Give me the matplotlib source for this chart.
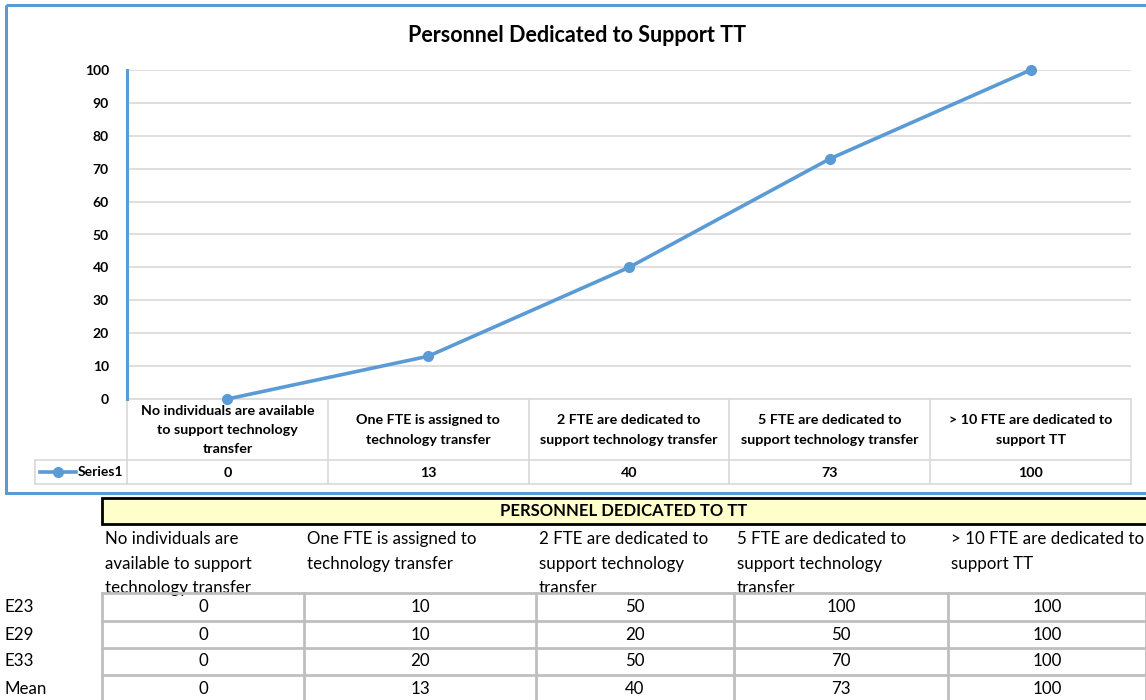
import matplotlib
matplotlib.use("Agg")
import matplotlib.pyplot as plt
from matplotlib.patches import Rectangle

plt.rcParams['font.family'] = ['Lato', 'DejaVu Sans']

# chart data
categories = [
    "No individuals are available\nto support technology\ntransfer",
    "One FTE is assigned to\ntechnology transfer",
    "2 FTE are dedicated to\nsupport technology transfer",
    "5 FTE are dedicated to\nsupport technology transfer",
    "> 10 FTE are dedicated to\nsupport TT",
]
series1 = [0, 13, 40, 73, 100]
yticks = [0, 10, 20, 30, 40, 50, 60, 70, 80, 90, 100]

# sheet data below the chart
sheet_title = "PERSONNEL DEDICATED TO TT"
sheet_headers = [
    "No individuals are\navailable to support\ntechnology transfer",
    "One FTE is assigned to\ntechnology transfer",
    "2 FTE are dedicated to\nsupport technology\ntransfer",
    "5 FTE are dedicated to\nsupport technology\ntransfer",
    "> 10 FTE are dedicated to\nsupport TT",
]
row_labels = ["E23", "E29", "E33", "Mean"]
e23 = [0, 10, 50, 100, 100]
e29 = [0, 10, 20, 50, 100]
e33 = [0, 20, 50, 70, 100]
mean = [0, 13, 40, 73, 100]

BLUE = "#5B9BD5"
GRID = "#D9D9D9"
W, H = 1146, 700

fig = plt.figure(figsize=(W / 100, H / 100), dpi=100)
bg = fig.add_axes([0, 0, 1, 1])
bg.set_xlim(0, W)
bg.set_ylim(H, 0)
bg.axis("off")

# chart frame
bg.add_patch(Rectangle((6, 5), 1160, 488, fill=False, ec=BLUE, lw=2.2))
bg.text(577, 35, "Personnel Dedicated to Support TT", ha="center", va="center",
        fontsize=15.5, fontweight="bold")

# --- line chart
x0, x1, ytop, ybot = 127, 1131, 70, 399
ax = fig.add_axes([x0 / W, 1 - ybot / H, (x1 - x0) / W, (ybot - ytop) / H])
ax.plot(range(len(series1)), series1, color=BLUE, lw=2.6, marker="o", ms=7,
        zorder=3, clip_on=False)
ax.set_xlim(-0.5, len(series1) - 0.5)
ax.set_ylim(0, 100)
ax.set_yticks(yticks)
ax.set_yticklabels([str(t) for t in yticks], fontsize=10, fontweight="bold")
ax.set_xticks([])
ax.tick_params(axis="y", length=0, pad=13)
ax.grid(axis="y", color=GRID, lw=1.2)
ax.set_axisbelow(True)
for s in ["top", "right", "bottom"]:
    ax.spines[s].set_visible(False)
ax.spines["left"].set_color(BLUE)
ax.spines["left"].set_linewidth(2.2)
ax.patch.set_alpha(0)

# --- chart data table
colw = (x1 - x0) / len(categories)
tgray = "#D9D9D9"
bg.plot([x0, x1], [ybot, ybot], color=tgray, lw=1.2)
bg.plot([35, x1], [460, 460], color=tgray, lw=1.2)
bg.plot([35, x1], [484, 484], color=tgray, lw=1.2)
bg.plot([35, 35], [460, 484], color=tgray, lw=1.2)
for i in range(len(categories) + 1):
    bg.plot([x0 + i * colw] * 2, [ybot, 484], color=tgray, lw=1.2)
for i, (c, v) in enumerate(zip(categories, series1)):
    cx = x0 + (i + 0.5) * colw
    lines = c.split("\n")
    top = 430 - (len(lines) - 1) * 9.5
    for k, ln in enumerate(lines):
        bg.text(cx, top + k * 19, ln, ha="center", va="center", fontsize=10.3, fontweight="bold")
    bg.text(cx, 473, str(v), ha="center", va="center", fontsize=10.3, fontweight="bold")
bg.plot([40, 76], [472, 472], color=BLUE, lw=2.6)
bg.plot([58], [472], "o", color=BLUE, ms=7)
bg.text(78, 472, "Series1", ha="left", va="center", fontsize=10, fontweight="bold")

# --- sheet section
bg.add_patch(Rectangle((102, 498), 1100, 26, fc="#FFFFCC", ec="black", lw=2))
bg.text(624, 511, sheet_title, ha="center", va="center", fontsize=12, fontweight="bold")

col_edges = [102, 304, 536, 734, 948, 1146]
row_edges = [593, 621, 648, 675, 702]
for i, hdr in enumerate(sheet_headers):
    for k, ln in enumerate(hdr.split("\n")):
        bg.text(col_edges[i] + 3, 539 + k * 24.5, ln, ha="left", va="center", fontsize=12.2)
# white band hides the bottom of the third header line, as the sheet grid does
bg.add_patch(Rectangle((102, 594), 1100, 110, fc="white", ec="none", zorder=2))
sgray = "#BFBFBF"
for y in row_edges:
    bg.plot([102, 1146], [y, y], color=sgray, lw=2, zorder=3)
for x in col_edges:
    bg.plot([x, x], [593, 702], color=sgray, lw=2, zorder=3)
for r, (lab, vals) in enumerate(zip(row_labels, [e23, e29, e33, mean])):
    cy = (row_edges[r] + row_edges[r + 1]) / 2
    bg.text(5, cy, lab, ha="left", va="center", fontsize=12.2, zorder=4)
    for i, v in enumerate(vals):
        cx = (col_edges[i] + col_edges[i + 1]) / 2
        bg.text(cx, cy, str(v), ha="center", va="center", fontsize=12.2, zorder=4)

fig.savefig("out.png", dpi=100)
